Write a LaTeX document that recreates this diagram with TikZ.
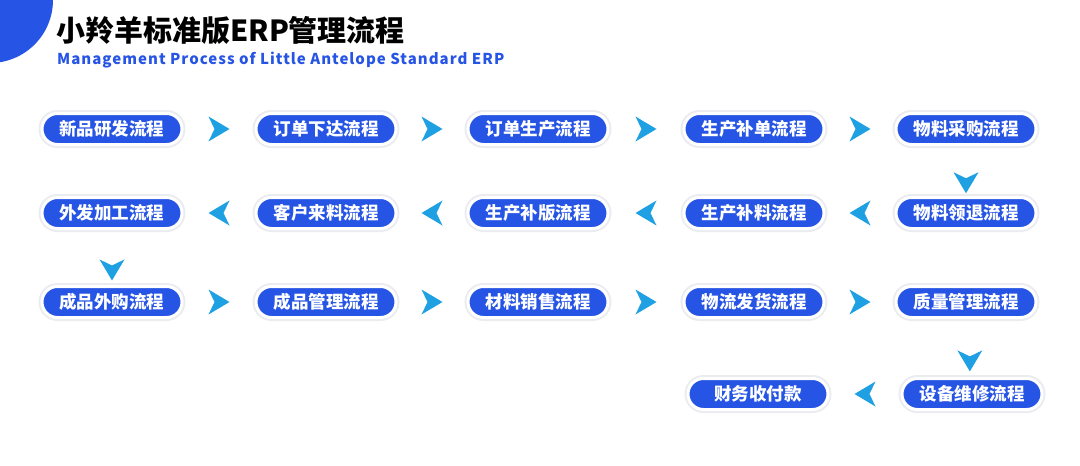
\documentclass[tikz,border=0pt]{standalone}
\usepackage{fontspec}
\setmainfont{Noto Sans CJK SC}
\newfontfamily\subfont{Noto Sans CJK SC}[LetterSpace=6.8]
\usetikzlibrary{calc}

\definecolor{procblue}{RGB}{38,84,228}
\definecolor{arrowblue}{RGB}{30,160,226}
\definecolor{ringgrey}{RGB}{234,236,240}

\tikzset{
    proc/.style={rounded corners=15.5pt, fill=procblue, draw=white, line width=3pt,
        preaction={draw=ringgrey, line width=7pt},
        minimum width=140pt, minimum height=31pt, inner sep=0pt,
        text height=13pt, text depth=0pt,
        text=white, font=\fontsize{17.5}{17.5}\selectfont\bfseries},
    chev/.pic={
        \fill[arrowblue] (10.5,0) -- (-10.5,12.5) -- (-4.5,0) -- (-10.5,-12.5) -- cycle;
    }
}

\begin{document}
\begin{tikzpicture}[x=1pt, y=-1pt]

    % Page frame
    \fill[white] (0,0) rectangle (1080,466);
    \useasboundingbox (0,0) rectangle (1080,466);

    % Heading
    \begin{scope}
        \clip (0,0) rectangle (80,80);
        \fill[procblue] (-10,0) circle[radius=63];
    \end{scope}
    \node[anchor=west, inner sep=0pt, font=\fontsize{29}{29}\selectfont\bfseries] (title) at (56,31)
        {小羚羊标准版ERP管理流程};
    \node[anchor=west, inner sep=0pt, text=procblue, font=\subfont\fontsize{15}{15}\selectfont\bfseries] (subtitle) at (57,60)
        {Management Process of Little Antelope Standard ERP};

    % Process steps, row by row
    \foreach \t [count=\i] in {新品研发流程,订单下达流程,订单生产流程,生产补单流程,物料采购流程} {
        \pgfmathsetmacro{\cx}{{112,326,538,754,966}[\i-1]}
        \node[proc] (a\i) at (\cx,129) {\t};
    }
    \foreach \t [count=\i] in {外发加工流程,客户来料流程,生产补版流程,生产补料流程,物料领退流程} {
        \pgfmathsetmacro{\cx}{{112,326,538,754,966}[\i-1]}
        \node[proc] (b\i) at (\cx,213) {\t};
    }
    \foreach \t [count=\i] in {成品外购流程,成品管理流程,材料销售流程,物流发货流程,质量管理流程} {
        \pgfmathsetmacro{\cx}{{112,326,538,754,966}[\i-1]}
        \node[proc] (c\i) at (\cx,302) {\t};
    }
    \node[proc] (d1) at (758,394) {财务收付款};
    \node[proc] (d2) at (972,394) {设备维修流程};

    % Chevrons between steps
    \foreach \i [evaluate=\i as \j using int(\i+1)] in {1,...,4} {
        \pic at ($(a\i)!0.5!(a\j)$) {chev};
        \pic[rotate=180] at ($(b\j)!0.5!(b\i)$) {chev};
        \pic at ($(c\i)!0.5!(c\j)$) {chev};
    }
    \pic[rotate=180] at ($(d2)!0.5!(d1)$) {chev};

    % Chevrons down to the next row
    \pic[rotate=-90] at ($(a5)!0.64!(b5)$) {chev};
    \pic[rotate=-90] at ($(b1)!0.64!(c1)$) {chev};
    \pic[rotate=-90] at ($(c5)!0.64!(d2)$) {chev};

\end{tikzpicture}
\end{document}
